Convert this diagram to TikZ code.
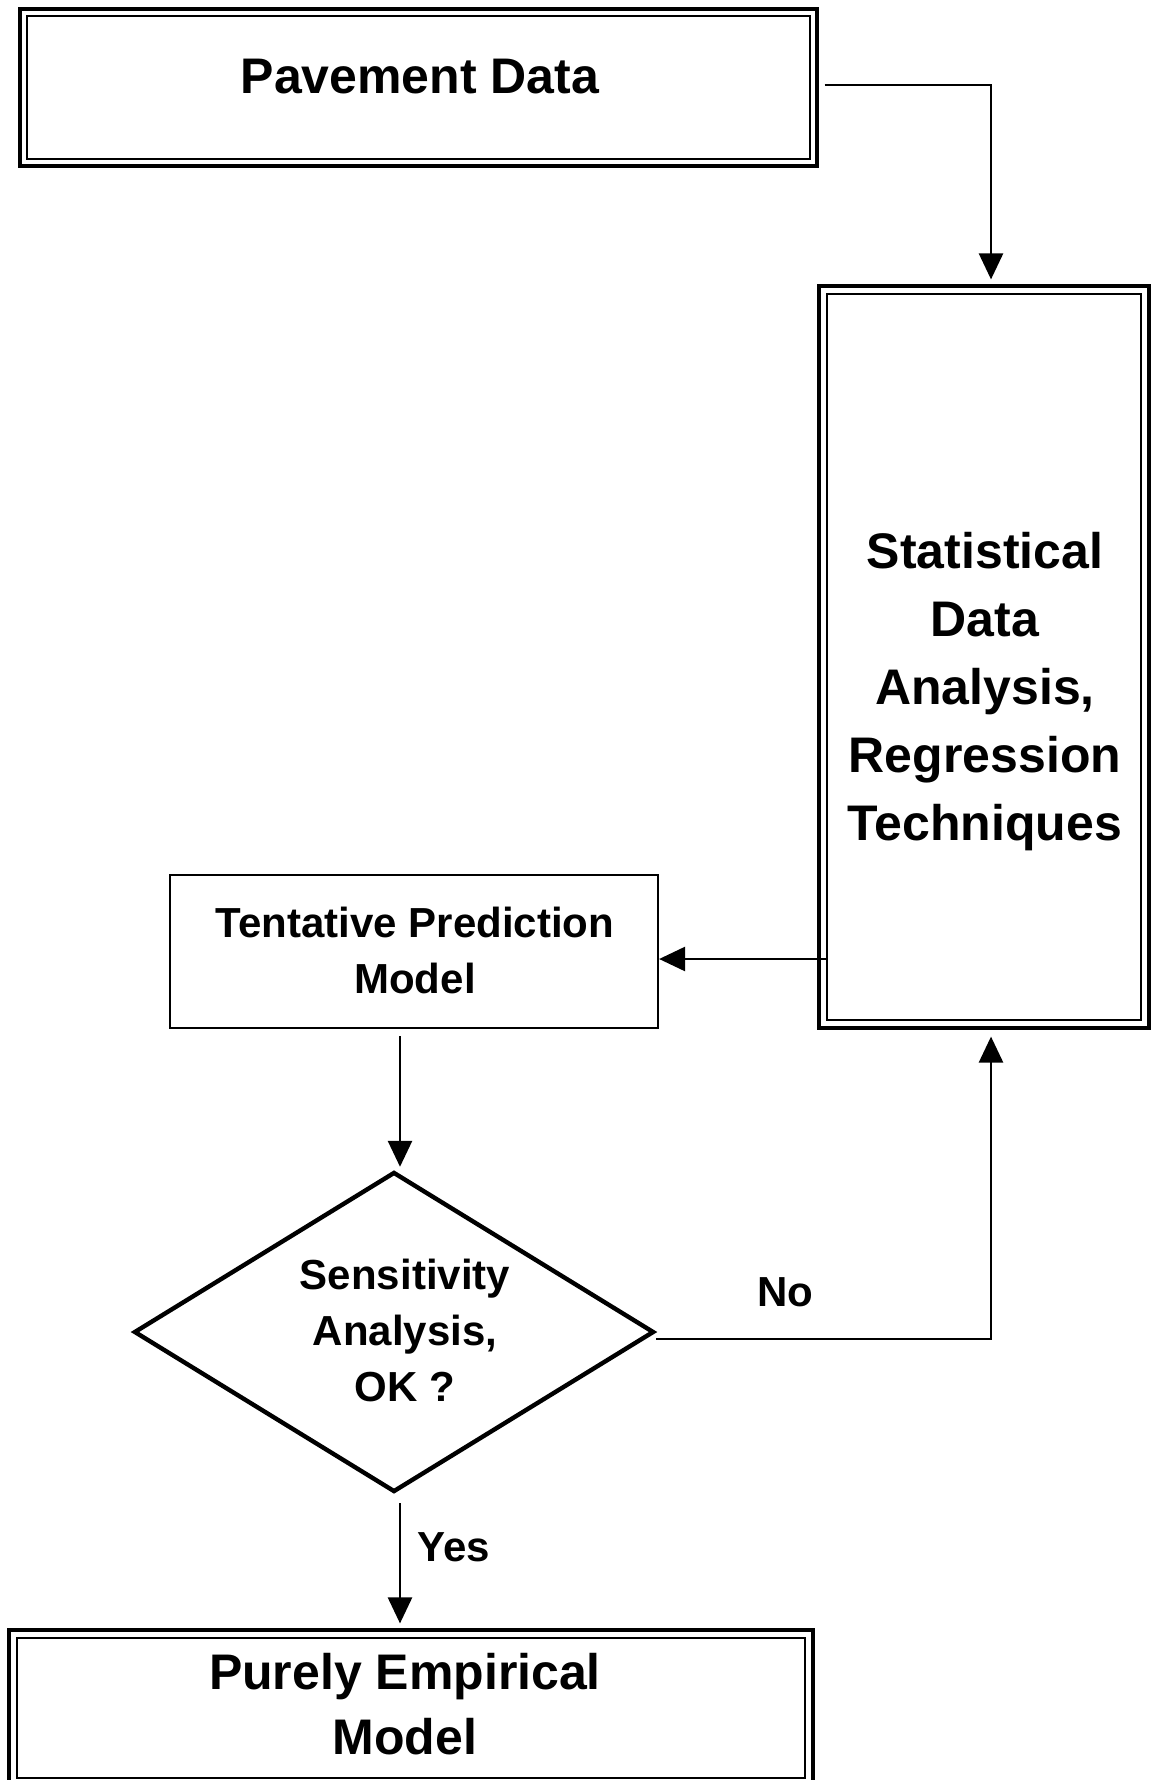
\documentclass[tikz,border=0pt]{standalone}
\usepackage{fontspec}
\setmainfont{Liberation Sans}
\usetikzlibrary{arrows.meta,shapes.geometric,calc}
\begin{document}
\begin{tikzpicture}[x=0.5pt,y=-0.5pt,
 outerbox/.style={draw,line width=1.6pt,inner sep=0pt,rectangle},
 innerbox/.style={draw,line width=1pt,inner sep=0pt,rectangle},
 plainbox/.style={draw,line width=1.1pt,inner sep=0pt,rectangle},
 decision/.style={draw,diamond,line width=2.2pt,inner sep=0pt},
 bigtxt/.style={font=\bfseries\fontsize{25}{34}\selectfont,align=center,inner sep=0pt},
 midtxt/.style={font=\bfseries\fontsize{21}{28}\selectfont,align=center,inner sep=0pt},
 arr/.style={-{Triangle[length=13pt,width=12pt]},line width=1.3pt}]
\useasboundingbox[fill=white] (0,0) rectangle (1152,1780);

% Pavement Data
\node[outerbox,minimum width=398.5pt,minimum height=78.5pt] (pav) at (418.5,87.5) {};
\node[innerbox,minimum width=391.5pt,minimum height=71.5pt] (pavin) at (pav.center) {};
\node[bigtxt] (pavtxt) at (420,77) {Pavement Data};

% Statistical box
\node[outerbox,minimum width=165pt,minimum height=371pt] (stat) at (984,657) {};
\node[innerbox,minimum width=157pt,minimum height=363pt] (statin) at (stat.center) {};
\node[bigtxt] (stattxt) at (985,692) {Statistical\\Data\\Analysis,\\Regression\\Techniques};

% Tentative model
\node[plainbox,minimum width=244pt,minimum height=76.5pt] (tent) at (414,951.5) {};
\node[midtxt] (tenttxt) at (415,950) {Tentative Prediction\\Model};

% Decision
\node[decision,minimum width=260pt,minimum height=160pt] (dia) at (394,1332) {};
\node[midtxt] (diatxt) at (405,1330) {Sensitivity\\Analysis,\\OK ?};

% Purely empirical
\node[outerbox,minimum width=402pt,minimum height=78pt] (pure) at (411,1708) {};
\node[innerbox,minimum width=394pt,minimum height=70pt] (purein) at (pure.center) {};
\node[bigtxt,font=\bfseries\fontsize{25}{32.5}\selectfont] (puretxt) at (405,1704) {Purely Empirical\\Model};

% labels
\node[midtxt] (no) at (785,1292) {No};
\node[midtxt] (yes) at (454,1547) {Yes};

% connectors
\coordinate (pavout) at ([xshift=3pt,yshift=1.25pt]pav.east);
\coordinate (statin1) at ([xshift=3.5pt,yshift=2.5pt]stat.north);
\draw[arr] (pavout) -| (statin1);

\coordinate (tentin) at ([yshift=-3.75pt]tent.east);
\draw[arr] (tentin -| statin.west) -- (tentin);

\coordinate (td) at ([xshift=-7pt,yshift=-3.5pt]tent.south);
\draw[arr,shorten >=1.5pt] (td) -- (td |- dia.north);

\coordinate (noout) at ([yshift=-3.5pt]dia.east);
\coordinate (noin) at ([xshift=3.5pt,yshift=-3.5pt]stat.south);
\draw[arr] (noout) -| (noin);

\coordinate (yd) at ([xshift=3pt,yshift=-4.5pt]dia.south);
\draw[arr,shorten >=2.5pt] (yd) -- (yd |- pure.north);
\end{tikzpicture}
\end{document}
